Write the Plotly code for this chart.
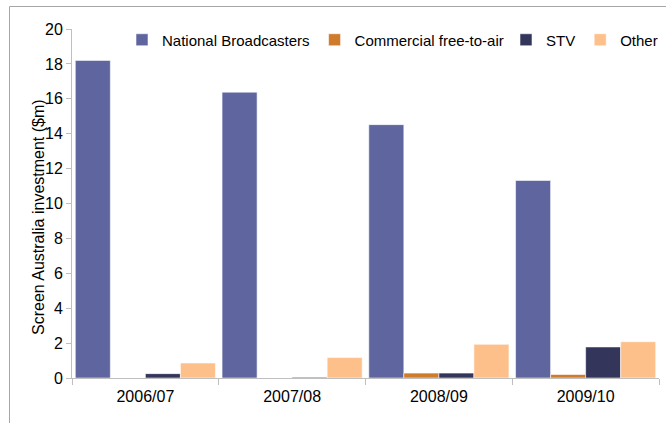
import plotly.graph_objects as go

categories = ["2006/07", "2007/08", "2008/09", "2009/10"]
national = [18.2, 16.38, 14.52, 11.32]
commercial = [0.0, 0.0, 0.28, 0.2]
stv = [0.25, 0.04, 0.28, 1.78]
other = [0.86, 1.17, 1.93, 2.08]
y_ticks = [0, 2, 4, 6, 8, 10, 12, 14, 16, 18, 20]

series = [
    ("National Broadcasters", national, "#5F659F", "legend"),
    ("Commercial free-to-air", commercial, "#D07A2C", "legend"),
    ("STV", stv, "#33355B", "legend2"),
    ("Other", other, "#FDC08B", "legend2"),
]

fig = go.Figure()
for name, vals, color, lg in series:
    fig.add_trace(go.Bar(x=categories, y=vals, name=name, legend=lg,
                         marker=dict(color=color,
                                     line=dict(width=0.8, color="rgba(255,255,255,0.7)"))))

W, H = 666, 423
L, R, T, B = 72, 7, 29, 45
pw = W - L - R
ph = H - T - B

def px_x(p):
    return (p - L) / pw

def px_y(p):
    return (H - B - p) / ph

legend_common = dict(orientation="h", yanchor="middle", xanchor="left",
                     font=dict(size=15), bgcolor="rgba(0,0,0,0)", itemwidth=30,
                     tracegroupgap=0)

fig.update_layout(
    width=W, height=H,
    margin=dict(l=L, r=R, t=T, b=B, autoexpand=False),
    paper_bgcolor="white", plot_bgcolor="white",
    barmode="group", bargap=0.045, bargroupgap=0,
    font=dict(family="Liberation Sans, Arial, sans-serif", size=16, color="black"),
    showlegend=True,
    legend=dict(x=px_x(122), y=px_y(40), **legend_common),
    legend2=dict(x=px_x(506), y=px_y(40), **legend_common),
    xaxis=dict(type="category", showline=True, linecolor="#BFBFBF", linewidth=1,
               ticks="outside", ticklen=6, tickcolor="#BFBFBF", tickson="boundaries",
               showgrid=False, tickfont=dict(size=16), ticklabelstandoff=4),
    yaxis=dict(range=[0, 20], tickvals=y_ticks, showline=True, linecolor="#BFBFBF",
               linewidth=1, ticks="outside", ticklen=5, tickcolor="#BFBFBF",
               showgrid=False, zeroline=False, tickfont=dict(size=16)),
    annotations=[dict(text="Screen Australia investment ($m)", textangle=-90,
                      xref="paper", yref="paper", x=px_x(38), y=px_y(217),
                      xanchor="center", yanchor="middle", showarrow=False,
                      font=dict(size=16))],
    shapes=[
        dict(type="line", xref="paper", yref="paper", x0=px_x(9.5), x1=px_x(9.5),
             y0=px_y(423), y1=px_y(6.5), line=dict(color="#A6A6A6", width=1)),
        dict(type="line", xref="paper", yref="paper", x0=px_x(9.5), x1=px_x(666),
             y0=px_y(6.5), y1=px_y(6.5), line=dict(color="#A6A6A6", width=1)),
    ],
)

fig.write_html("out.html", config={"displayModeBar": False},
               post_script="document.body.style.margin='0px';")
